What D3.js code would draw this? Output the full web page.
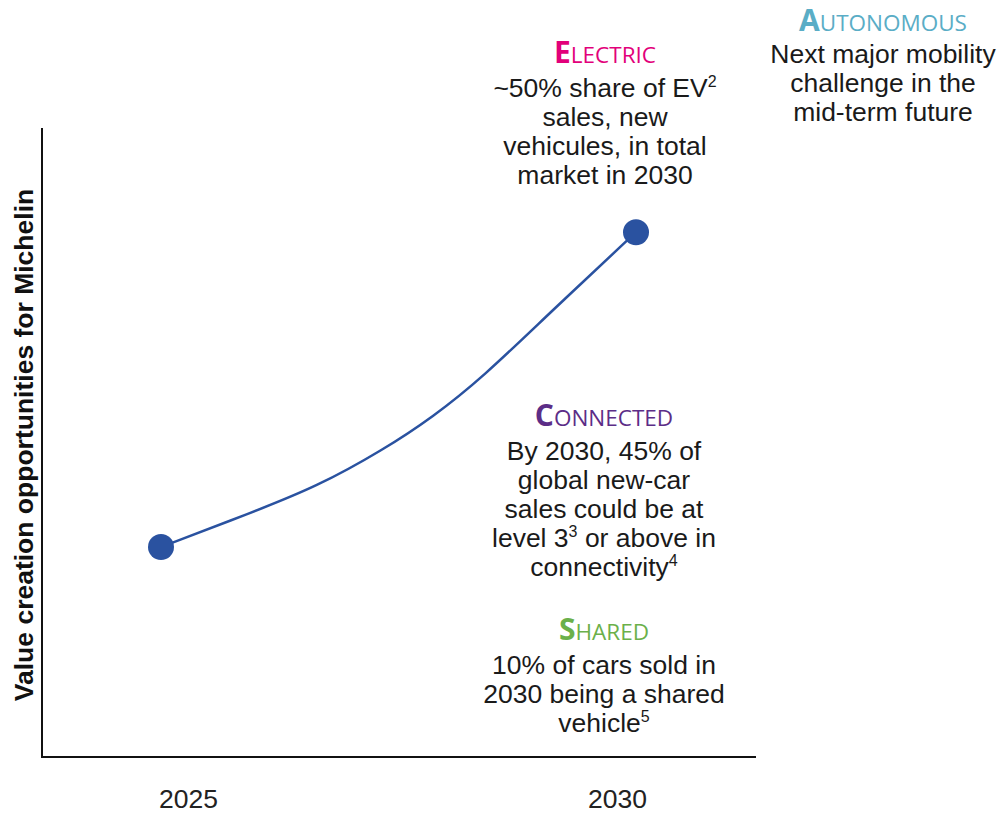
<!DOCTYPE html>
<html><head><meta charset="utf-8">
<script src="https://cdn.jsdelivr.net/npm/d3@7"></script>
<style>body{margin:0;background:#fff}svg{display:block}</style>
</head><body><svg id="c" width="1000" height="814"></svg>
<script>
// ---- data ----
const years = [2025, 2030];
const values = [33.5, 83.7];               // value-creation index at the two years
// path shape
const curveYears = [2025, 2025.94, 2026.64, 2027.34, 2027.86, 2028.39, 2029.09, 2030];
const curveValues = [33.5, 38.9, 43.1, 49.0, 54.2, 60.6, 70.8, 83.7];
const tickLabels = ["2025", "2030"];
const yTitle = "Value creation opportunities for Michelin";

const blocks = [
  {title: "Autonomous", color: "#5aadc6", cx: 883, ty: 31, lines: [["Next major mobility"], ["challenge in the"], ["mid-term future"]]},
  {title: "Electric", color: "#e2007a", cx: 605, ty: 63, lines: [["~50% share of EV", "2"], ["sales, new"], ["vehicules, in total"], ["market in 2030"]]},
  {title: "Connected", color: "#5c2d87", cx: 604, ty: 426, lines: [["By 2030, 45% of"], ["global new-car"], ["sales could be at"], ["level 3", "3", " or above in"], ["connectivity", "4"]]},
  {title: "Shared", color: "#6bb04a", cx: 604, ty: 640, lines: [["10% of cars sold in"], ["2030 being a shared"], ["vehicle", "5"]]}
];

const svg = d3.select("#c");
const x = d3.scaleLinear().domain([2025, 2030]).range([161, 636]);
const y = d3.scaleLinear().domain([0, 100]).range([757, 130]);
const xTick = d3.scalePoint().domain(tickLabels).range([188, 617]);

// axes lines
svg.append("line").attr("x1", 42).attr("x2", 42).attr("y1", 128).attr("y2", 758)
  .attr("stroke", "#111").attr("stroke-width", 2);
svg.append("line").attr("x1", 41).attr("x2", 756).attr("y1", 757).attr("y2", 757)
  .attr("stroke", "#111").attr("stroke-width", 2);

// x tick labels
const xa = svg.append("g").attr("transform", "translate(0,757)")
  .call(d3.axisBottom(xTick).tickSize(0).tickPadding(0));
xa.select(".domain").remove();
xa.selectAll("text").attr("dy", null).attr("y", 51).attr("font-family", "Liberation Sans, Arial, sans-serif")
  .attr("font-size", 26.5).attr("fill", "#222");

// y title
svg.append("text").attr("transform", "translate(33,445) rotate(-90)")
  .attr("text-anchor", "middle").attr("font-family", "Liberation Sans, Arial, sans-serif")
  .attr("font-weight", "bold").attr("font-size", 26.5).attr("fill", "#111").text(yTitle);

// curve
const pts = curveYears.map((d, i) => [d, curveValues[i]]);
svg.append("path").datum(pts)
  .attr("d", d3.line().x(d => x(d[0])).y(d => y(d[1])).curve(d3.curveBasis))
  .attr("fill", "none").attr("stroke", "#2a52a0").attr("stroke-width", 2.5);

svg.selectAll("circle.pt").data(years).join("circle").attr("class", "pt")
  .attr("cx", d => x(d)).attr("cy", (d, i) => y(values[i])).attr("r", 13).attr("fill", "#2a52a0");

// text blocks
blocks.forEach(b => {
  const t = svg.append("text").attr("x", b.cx).attr("y", b.ty).attr("text-anchor", "middle")
    .attr("font-family", "Open Sans, Lato, sans-serif").attr("fill", b.color);
  t.append("tspan").attr("font-size", 30).attr("font-weight", "bold").text(b.title[0].toUpperCase());
  t.append("tspan").attr("font-size", 22.5).text(b.title.slice(1).toUpperCase());
  const off = b.title === "Autonomous" ? 32 : 34;
  b.lines.forEach((ln, i) => {
    const tx = svg.append("text").attr("x", b.cx).attr("y", b.ty + off + i * 29)
      .attr("text-anchor", "middle").attr("font-family", "Liberation Sans, Arial, sans-serif")
      .attr("font-size", 26.5).attr("fill", "#1a1a1a");
    ln.forEach((seg, j) => {
      if (j % 2 === 1) tx.append("tspan").attr("font-size", 16).attr("dy", -10).text(seg);
      else tx.append("tspan").attr("dy", j > 0 ? 10 : 0).text(seg);
    });
  });
});
</script></body></html>
